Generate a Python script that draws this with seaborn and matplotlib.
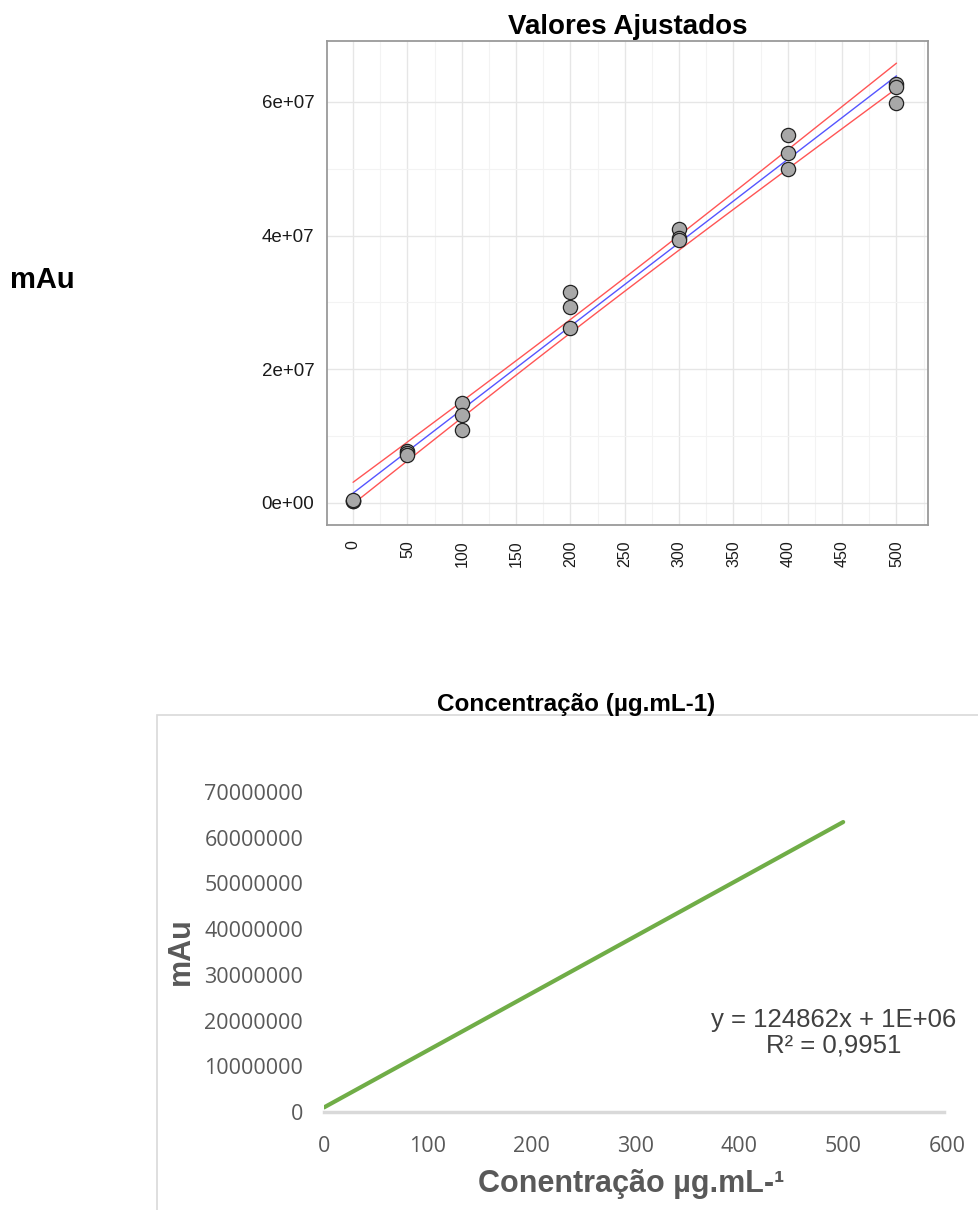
import numpy as np
import pandas as pd
import seaborn as sns
import matplotlib.pyplot as plt
from matplotlib.patches import Rectangle
from matplotlib.ticker import MultipleLocator

# replicate readings per concentration
conc = [0, 0, 0, 50, 50, 50, 100, 100, 100, 200, 200, 200,
        300, 300, 300, 400, 400, 400, 500, 500, 500]
area = [3.5e5, 3.0e5, 4.0e5, 7.8e6, 7.4e6, 7.1e6, 14.9e6, 13.1e6, 10.9e6,
        31.5e6, 29.3e6, 26.1e6, 41.0e6, 39.6e6, 39.3e6, 55.1e6, 52.4e6, 50.0e6,
        62.7e6, 62.2e6, 59.9e6]

top_xticks = list(range(0, 501, 50))
top_yticks = [0, 2e7, 4e7, 6e7]
top_ylabels = ["0e+00", "2e+07", "4e+07", "6e+07"]

# excel trendline shown in the lower chart
slope = 124862
intercept = 1e6
r2_text = "R² = 0,9951"
eq_text = "y = 124862x + 1E+06"
trend_x = [0, 500]
bottom_xticks = [0, 100, 200, 300, 400, 500, 600]
bottom_yticks = [0, 10000000, 20000000, 30000000, 40000000, 50000000, 60000000, 70000000]

df = pd.DataFrame({"conc": conc, "area": area})

# least squares fit with 95% confidence band (t for df=19)
x = np.array(conc, dtype=float)
y = np.array(area)
b1, b0 = np.polyfit(x, y, 1)
resid = y - (b0 + b1 * x)
n = len(x)
s = np.sqrt((resid ** 2).sum() / (n - 2))
xg = np.linspace(0, 500, 101)
fit = b0 + b1 * xg
half = 2.093 * s * np.sqrt(1 / n + (xg - x.mean()) ** 2 / ((x - x.mean()) ** 2).sum())
fit_df = pd.DataFrame({"conc": xg, "fit": fit, "lo": fit - half, "hi": fit + half})

sns.set_theme(style="white")
plt.rcParams['font.family'] = ['Liberation Sans', 'DejaVu Sans']

W, H = 979, 1210
fig = plt.figure(figsize=(W / 100, H / 100), dpi=100)

# ---- top panel: fitted values ----
ax1 = fig.add_axes([327 / W, 1 - 525 / H, 601 / W, 484 / H])
ax1.set_xlim(-24, 529)
ax1.set_ylim(-3.3e6, 6.91e7)
ax1.xaxis.set_minor_locator(MultipleLocator(25))
ax1.yaxis.set_minor_locator(MultipleLocator(1e7))
ax1.grid(which="major", color="#E6E6E6", lw=1)
ax1.grid(which="minor", color="#F3F3F3", lw=0.8)
ax1.set_axisbelow(True)

sns.lineplot(data=fit_df, x="conc", y="hi", color="#FF5555", lw=1, ax=ax1)
sns.lineplot(data=fit_df, x="conc", y="lo", color="#FF5555", lw=1, ax=ax1)
sns.lineplot(data=fit_df, x="conc", y="fit", color="#5555FF", lw=1, ax=ax1)
sns.scatterplot(data=df, x="conc", y="area", s=105, color="#A8A8A8",
                edgecolor="#222222", linewidth=0.9, ax=ax1, zorder=5)

ax1.set_xticks(top_xticks)
ax1.set_xticklabels([str(t) for t in top_xticks], rotation=90)
ax1.set_yticks(top_yticks)
ax1.set_yticklabels(top_ylabels)
ax1.tick_params(axis="both", which="major", length=5, width=1, color="#333333",
                labelcolor="#1a1a1a", direction="out")
ax1.tick_params(axis="y", labelsize=13.5, pad=4)
ax1.tick_params(axis="x", labelsize=11.5, pad=6)
ax1.tick_params(axis="both", which="minor", length=0)
ax1.set_xlabel("")
ax1.set_ylabel("")
for sp in ax1.spines.values():
    sp.set_color("#9A9A9A")
    sp.set_linewidth(1.3)
ax1.set_title("Valores Ajustados", fontsize=20, fontweight="bold", pad=5,
              color="black")

fig.text(10 / W, 1 - 280 / H, "mAu", fontsize=21, fontweight="bold", color="black",
         va="center", ha="left")
fig.text(576 / W, 1 - 704 / H, "Concentração (µg.mL-1)", fontsize=17.5,
         fontweight="bold", color="black", ha="center", va="center")

# ---- bottom panel: excel style trendline ----
fig.patches.append(Rectangle((157 / W, -0.05), 1.0, 1 - 715 / H + 0.05,
                             transform=fig.transFigure, fill=False,
                             edgecolor="#D9D9D9", lw=1.2))

ax2 = fig.add_axes([324 / W, 1 - 1112 / H, 623 / W, 320 / H])
ax2.set_xlim(0, 600)
ax2.set_ylim(0, 70000000)
trend_y = [slope * v + intercept for v in trend_x]
sns.lineplot(x=trend_x, y=trend_y, color="#70AD47", lw=3, ax=ax2)
ax2.set_xticks(bottom_xticks)
ax2.set_yticks(bottom_yticks)
ax2.set_yticklabels([str(v) for v in bottom_yticks])
ax2.tick_params(axis="both", length=0, labelsize=15.5, labelcolor="#595959")
ax2.tick_params(axis="y", pad=15)
ax2.tick_params(axis="x", pad=17)
for t in ax2.get_xticklabels() + ax2.get_yticklabels():
    t.set_fontfamily(['Open Sans', 'DejaVu Sans'])
for side in ["top", "right", "left"]:
    ax2.spines[side].set_visible(False)
ax2.spines["bottom"].set_color("#D9D9D9")
ax2.spines["bottom"].set_linewidth(2.5)
ax2.spines["bottom"].set_bounds(0, 597)
ax2.patch.set_alpha(0)
ax2.set_xlabel("")
ax2.set_ylabel("")

fig.text(631 / W, 1 - 1184 / H, "Conentração µg.mL-¹", fontsize=22,
         fontweight="bold", color="#595959", ha="center", va="center")
fig.text(181 / W, 1 - 951 / H, "mAu", fontsize=22, fontweight="bold",
         color="#595959", ha="center", va="center", rotation=90)
fig.text(834 / W, 1 - 1033 / H, eq_text + "\n" + r2_text, fontsize=18.5,
         color="#404040", ha="center", va="center", linespacing=1.1)

fig.savefig("out.png", dpi=100)
